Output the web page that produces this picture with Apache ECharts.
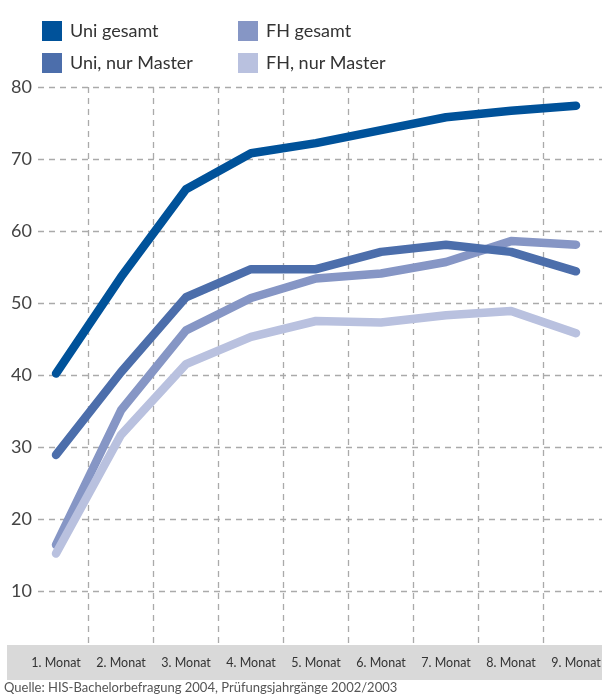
<!DOCTYPE html>
<html>
<head>
<meta charset="utf-8">
<script src="https://cdn.jsdelivr.net/npm/echarts@6/dist/echarts.min.js"></script>
<style>
  html, body { margin: 0; padding: 0; background: #fff; }
  #chart { width: 602px; height: 696px; }
</style>
</head>
<body>
<div id="chart"></div>
<script>
const months = ['1. Monat', '2. Monat', '3. Monat', '4. Monat', '5. Monat', '6. Monat', '7. Monat', '8. Monat', '9. Monat'];
const uniGesamt = [40.2, 53.6, 65.8, 70.8, 72.2, 74.0, 75.8, 76.7, 77.4];
const uniMaster = [28.9, 40.4, 50.8, 54.7, 54.7, 57.1, 58.1, 57.1, 54.4];
const fhGesamt = [16.4, 35.1, 46.2, 50.7, 53.4, 54.1, 55.7, 58.6, 58.1];
const fhMaster = [15.2, 31.7, 41.5, 45.3, 47.5, 47.3, 48.3, 48.9, 45.8];
const source = 'Quelle: HIS-Bachelorbefragung 2004, Prüfungsjahrgänge 2002/2003';

const font = 'Lato, "Open Sans", sans-serif';
const dash = { color: '#aaaaaa', width: 1.3, type: [6, 5] };

const myChart = echarts.init(document.getElementById('chart'));

function line(name, data, color) {
  return {
    name: name,
    type: 'line',
    xAxisIndex: 0,
    yAxisIndex: 0,
    data: data,
    symbol: 'none',
    lineStyle: { color: color, width: 8.5, cap: 'round', join: 'round' },
    itemStyle: { color: color }
  };
}

const legendBase = {
  orient: 'vertical',
  top: 16,
  icon: 'rect',
  itemWidth: 20,
  itemHeight: 20,
  itemGap: 12,
  selectedMode: false,
  textStyle: { fontFamily: font, fontSize: 18, color: '#333', lineHeight: 20, padding: [0, 0, 0, 3] }
};

const option = {
  animation: false,
  title: {
    text: source,
    left: 4,
    top: 681,
    padding: 0,
    textStyle: { fontFamily: font, fontSize: 13, fontWeight: 'normal', color: '#555' }
  },
  legend: [
    Object.assign({ left: 37, data: ['Uni gesamt', 'Uni, nur Master'] }, legendBase),
    Object.assign({ left: 233, data: ['FH gesamt', 'FH, nur Master'] }, legendBase)
  ],
  graphic: [{
    type: 'rect',
    z: -1,
    shape: { x: 7, y: 645, width: 595, height: 35 },
    style: { fill: '#d9d9d9' }
  }],
  grid: [
    // data grid
    { left: 23.5, width: 585, top: 87, bottom: 33, outerBoundsMode: 'none' },
    // horizontal lines + y labels
    { left: 38, right: 0, top: 87, bottom: 33, outerBoundsMode: 'none' },
    // vertical lines + month labels
    { left: 23.5, width: 585, top: 87, bottom: 51, outerBoundsMode: 'none' }
  ],
  xAxis: [
    { gridIndex: 0, type: 'category', data: months, boundaryGap: true, show: false },
    { gridIndex: 1, type: 'value', show: false },
    {
      gridIndex: 2,
      type: 'category',
      data: months,
      boundaryGap: true,
      axisLine: { show: false },
      axisTick: { show: false },
      axisLabel: { interval: 0, margin: 11, fontFamily: font, fontSize: 12.5, color: '#333' },
      splitLine: { show: true, showMinLine: false, showMaxLine: false, lineStyle: dash }
    }
  ],
  yAxis: [
    { gridIndex: 0, type: 'value', min: 0, max: 80, show: false },
    {
      gridIndex: 1,
      type: 'value',
      min: 0,
      max: 80,
      interval: 10,
      axisLine: { show: false },
      axisTick: { show: false },
      axisLabel: { showMinLabel: false, margin: 6, fontFamily: font, fontSize: 18, color: '#444' },
      splitLine: { show: true, showMinLine: false, lineStyle: dash }
    },
    { gridIndex: 2, type: 'value', show: false }
  ],
  series: [
    line('FH gesamt', fhGesamt, '#8696c5'),
    line('Uni, nur Master', uniMaster, '#4c6eab'),
    line('FH, nur Master', fhMaster, '#b9c1df'),
    line('Uni gesamt', uniGesamt, '#00529a')
  ]
};

myChart.setOption(option);
</script>
</body>
</html>
